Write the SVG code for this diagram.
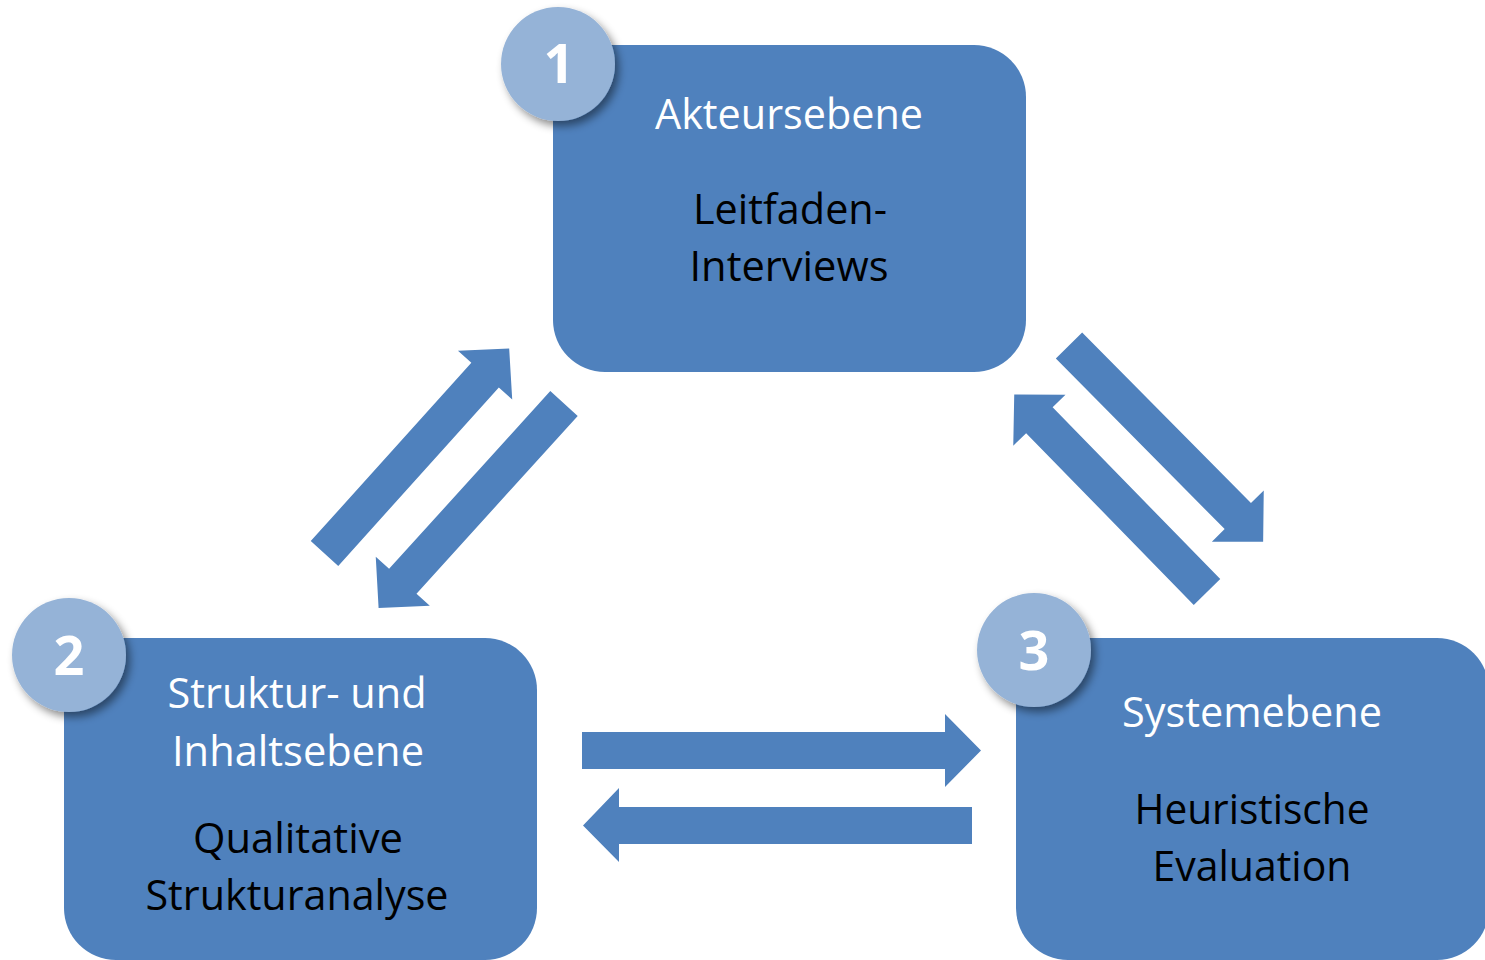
<svg xmlns="http://www.w3.org/2000/svg" width="1485" height="960" viewBox="0 0 1485 960">
<defs>
<filter id="sh" x="-30%" y="-30%" width="170%" height="170%">
<feDropShadow dx="4" dy="5" stdDeviation="4" flood-color="#000" flood-opacity="0.45"/>
</filter>
<path id="arrDiag" d="M0,-18.5 H240 V-36.5 L276,0 L240,36.5 V18.5 H0 Z"/>
</defs>
<style>
.box{fill:#4F81BD}
.num{fill:#95B3D7;filter:url(#sh)}
.arr{fill:#4F81BD}
.t{font-family:"Open Sans","Liberation Sans",sans-serif;font-size:42px;text-anchor:middle}
.w{fill:#FFFFFF}
.b{fill:#000000}
.n{font-family:"Open Sans","Liberation Sans",sans-serif;font-size:54px;font-weight:bold;fill:#FFFFFF;text-anchor:middle}
</style>
<rect width="1485" height="960" fill="#FFFFFF"/>
<g id="connectors">
<path class="arr" d="M582,732 H945 V714 L981,750.5 L945,787 V769 H582 Z"/>
<path class="arr" d="M972,807 H619 V788 L583,825.5 L619,862 V844 H972 Z"/>
<use href="#arrDiag" class="arr" transform="translate(324.5,553.5) rotate(-48)"/>
<use href="#arrDiag" class="arr" transform="translate(564,403.5) rotate(132.2)"/>
<use href="#arrDiag" class="arr" transform="translate(1069,345.5) rotate(45.3)"/>
<use href="#arrDiag" class="arr" transform="translate(1207,592) rotate(-134.3)"/>
</g>
<g id="node1">
<rect class="box" x="553" y="45" width="473" height="327" rx="52"/>
<circle class="num" cx="558" cy="64" r="57"/>
<text class="n" x="559" y="83">1</text>
<text class="t w" x="789" y="129" textLength="268" lengthAdjust="spacingAndGlyphs">Akteursebene</text>
<text class="t b" x="790" y="224" textLength="194" lengthAdjust="spacingAndGlyphs">Leitfaden-</text>
<text class="t b" x="789" y="281" textLength="199" lengthAdjust="spacingAndGlyphs">Interviews</text>
</g>
<g id="node2">
<rect class="box" x="64" y="638" width="473" height="322" rx="52"/>
<circle class="num" cx="69" cy="655" r="57"/>
<text class="n" x="69" y="675">2</text>
<text class="t w" x="297" y="708" textLength="259" lengthAdjust="spacingAndGlyphs">Struktur- und</text>
<text class="t w" x="298" y="766" textLength="252" lengthAdjust="spacingAndGlyphs">Inhaltsebene</text>
<text class="t b" x="298" y="853" textLength="210" lengthAdjust="spacingAndGlyphs">Qualitative</text>
<text class="t b" x="297" y="910" textLength="303" lengthAdjust="spacingAndGlyphs">Strukturanalyse</text>
</g>
<g id="node3">
<rect class="box" x="1016" y="638" width="473" height="322" rx="52"/>
<circle class="num" cx="1034" cy="650" r="57"/>
<text class="n" x="1034" y="670">3</text>
<text class="t w" x="1252" y="727" textLength="260" lengthAdjust="spacingAndGlyphs">Systemebene</text>
<text class="t b" x="1252" y="824" textLength="235" lengthAdjust="spacingAndGlyphs">Heuristische</text>
<text class="t b" x="1252" y="881" textLength="199" lengthAdjust="spacingAndGlyphs">Evaluation</text>
</g>
</svg>
